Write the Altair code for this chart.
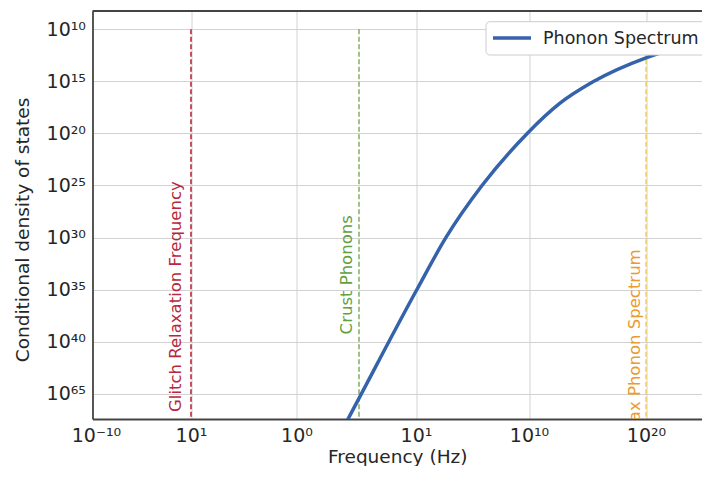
import json
import altair as alt
import pandas as pd

# ---- axis ticks (positions on the chart's own axis units) ----
x_tick_pos = [0.0, 0.95, 2.005, 3.2, 4.33, 5.5]
x_tick_labels = ["10⁻¹⁰", "10¹", "10⁰", "10¹", "10¹⁰", "10²⁰"]
y_tick_pos = [0, 1, 2, 3, 4, 5, 6, 7]
y_tick_labels = ["10¹⁰", "10¹⁵", "10²⁰", "10²⁵", "10³⁰", "10³⁵", "10⁴⁰", "10⁶⁵"]

# ---- phonon spectrum curve ----
series_name = ["Phonon Spectrum"]
curve_x = [2.44, 2.52, 3.205, 3.50, 3.86, 4.31, 4.64, 4.97, 5.50, 5.89]
curve_y = [7.772, 7.485, 5.013, 3.998, 3.002, 2.006, 1.421, 1.010, 0.550, 0.320]

# ---- reference frequencies ----
marker_names = ["Glitch Relaxation Frequency", "Crust Phonons", "Max Phonon Spectrum"]
marker_x = [0.95, 2.63, 5.5]
marker_top = [0, 0, 0]
marker_line_colors = ["#b8283c", "#5e9a3c", "#f3c51e"]
marker_text_colors = ["#b8283c", "#65a040", "#eb9a2e"]
marker_widths = [1.6, 1.2, 1.2]
label_x = [0.85, 2.56, 5.44]
label_y = [7.35, 5.86, 7.80]

X_DOMAIN = [-0.035, 6.06]
Y_DOMAIN = [-0.35, 7.485]
W, H = 609.5, 408
FONT = "DejaVu Sans"
TXT = "#262626"
SPINE = "#444444"
BLUE = "#3462ab"

curve = pd.DataFrame({"x": curve_x, "y": curve_y, "series": series_name[0]})
markers = pd.DataFrame({
    "x": marker_x, "y": marker_top, "name": marker_names,
    "line_color": marker_line_colors, "text_color": marker_text_colors,
    "w": marker_widths, "lx": label_x, "ly": label_y,
})
legend_df = pd.DataFrame({"series": series_name})

xs = alt.Scale(domain=X_DOMAIN, nice=False, zero=False)
ys = alt.Scale(domain=Y_DOMAIN, nice=False, zero=False, reverse=True)

x_expr = "{}[indexof({}, datum.value)]".format(
    json.dumps(x_tick_labels, ensure_ascii=False), json.dumps(x_tick_pos))
y_expr = "{}[indexof({}, datum.value)]".format(
    json.dumps(y_tick_labels, ensure_ascii=False), json.dumps(y_tick_pos))

x_axis = alt.Axis(
    values=x_tick_pos, labelExpr=x_expr, title="Frequency (Hz)",
    grid=True, gridColor="#d2d2d2", gridWidth=1,
    gridOpacity={"condition": {"test": "datum.value === 0", "value": 0}, "value": 1},
    ticks=False, domainColor=SPINE, domainWidth=1.8,
    labelFont=FONT, labelFontSize=19, labelColor=TXT, labelPadding=7,
    labelFlush=False, labelOverlap=False, labelBound=False,
    titleFont=FONT, titleFontSize=18.5, titleColor=TXT, titleFontWeight="normal",
    titlePadding=2,
)
y_axis = alt.Axis(
    values=y_tick_pos, labelExpr=y_expr, title="Conditional density of states",
    grid=True, gridColor="#d2d2d2", gridWidth=1,
    ticks=False, domainColor=SPINE, domainWidth=1.8,
    labelFont=FONT, labelFontSize=19, labelColor=TXT, labelPadding=7,
    labelFlush=False, labelOverlap=False, labelBound=False,
    titleFont=FONT, titleFontSize=18.5, titleColor=TXT, titleFontWeight="normal",
    titleAngle=270, titleX=-70, titleY=218.5, titleAlign="center", titleBaseline="middle",
)

rules = alt.Chart(markers).mark_rule(strokeDash=[5, 2.5], clip=True).encode(
    x=alt.X("x:Q", scale=xs, axis=x_axis),
    y=alt.Y("y:Q", scale=ys, axis=y_axis),
    y2=alt.value(H),
    stroke=alt.Stroke("line_color:N", scale=None),
    strokeWidth=alt.StrokeWidth("w:Q", scale=None),
)

labels = alt.Chart(markers).mark_text(
    angle=270, align="left", baseline="alphabetic", font=FONT, fontSize=16.5, clip=True
).encode(
    x=alt.X("lx:Q", scale=xs, axis=x_axis),
    y=alt.Y("ly:Q", scale=ys, axis=y_axis),
    text="name:N",
    fill=alt.Fill("text_color:N", scale=None),
)

line = alt.Chart(curve).mark_line(
    strokeWidth=3.5, interpolate="monotone", clip=True, color=BLUE
).encode(
    x=alt.X("x:Q", scale=xs, axis=x_axis),
    y=alt.Y("y:Q", scale=ys, axis=y_axis),
    detail="series:N",
)

# legend box (upper right, running off the right edge as in the original)
leg_box = alt.Chart(legend_df).mark_rect(
    fill="white", stroke="#cccccc", strokeWidth=1, cornerRadius=4
).encode(x=alt.value(393.5), x2=alt.value(640), y=alt.value(10.7), y2=alt.value(44))
leg_line = alt.Chart(legend_df).mark_rule(color=BLUE, strokeWidth=3.5).encode(
    x=alt.value(400.5), x2=alt.value(438.5), y=alt.value(27)
)
leg_text = alt.Chart(legend_df).mark_text(
    align="left", baseline="middle", font=FONT, fontSize=17.5, color=TXT
).encode(x=alt.value(450.5), y=alt.value(27.5), text="series:N")

top_spine = alt.Chart(legend_df).mark_rule(color=SPINE, strokeWidth=1.8).encode(
    x=alt.value(0), x2=alt.value(W), y=alt.value(0)
)

chart = alt.layer(rules, labels, line, leg_box, leg_line, leg_text, top_spine).properties(
    width=W, height=H,
    autosize=alt.AutoSizeParams(type="none"),
    padding={"left": 84.5, "top": 3, "right": 0, "bottom": 47},
).configure_view(stroke=None)

chart.save("out.html", embed_options={"renderer": "svg", "actions": False})
